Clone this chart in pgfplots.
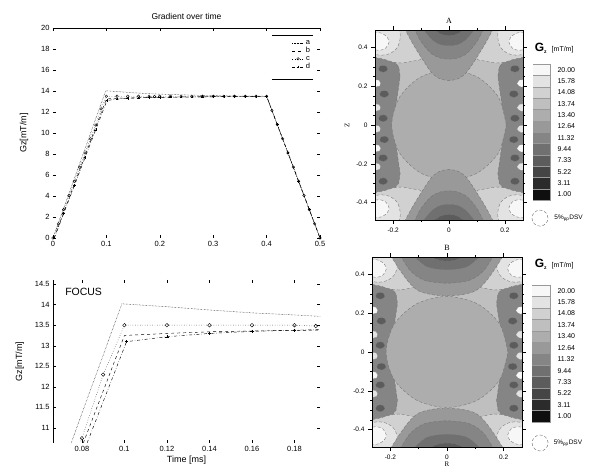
\documentclass[border=0pt]{standalone}
\usepackage{pgfplots}
\pgfplotsset{compat=1.18}
\usepackage{pgfplotstable}
\usepackage{fontspec}
\setmainfont{Liberation Sans}
\newfontfamily\serif{Liberation Serif}

\definecolor{L1}{gray}{0.06}
\definecolor{L2}{gray}{0.17}
\definecolor{L3}{gray}{0.27}
\definecolor{L4}{gray}{0.36}
\definecolor{L5}{gray}{0.44}
\definecolor{L6}{gray}{0.52}
\definecolor{L7}{gray}{0.60}
\definecolor{L8}{gray}{0.68}
\definecolor{L9}{gray}{0.75}
\definecolor{L10}{gray}{0.82}
\definecolor{L11}{gray}{0.89}
\definecolor{L12}{gray}{0.97}

% ---------------- gradient waveforms ----------------
\pgfplotstableread{
t g
0 0
0.0988 14.02
0.12 13.95
0.14 13.87
0.16 13.80
0.18 13.75
0.19 13.72
0.25 13.62
0.30 13.56
0.35 13.52
0.40 13.50
0.50 0
}\serA
\pgfplotstableread{
t g
0.002 0
0.100 13.25
0.12 13.30
0.14 13.34
0.16 13.36
0.19 13.38
0.30 13.45
0.40 13.50
0.50 0
}\serB
\pgfplotstableread{
t g
0 0
0.01 1.35
0.02 2.7
0.03 4.05
0.04 5.4
0.05 6.75
0.06 8.1
0.07 9.45
0.08 10.75
0.09 12.3
0.10 13.5
0.12 13.5
0.14 13.5
0.16 13.5
0.18 13.5
0.19 13.48
0.20 13.5
0.22 13.5
0.24 13.5
0.26 13.5
0.28 13.5
0.30 13.5
0.32 13.5
0.34 13.5
0.36 13.5
0.38 13.5
0.40 13.5
0.41 12.15
0.42 10.8
0.43 9.45
0.44 8.1
0.45 6.75
0.46 5.4
0.47 4.05
0.48 2.7
0.49 1.35
0.50 0
}\serC
\pgfplotstableread{
t g
0.0025 0
0.02 2.33
0.04 4.99
0.06 7.65
0.08 10.31
0.101 13.10
0.12 13.22
0.14 13.30
0.16 13.35
0.18 13.38
0.20 13.40
0.22 13.42
0.24 13.43
0.26 13.44
0.28 13.45
0.30 13.46
0.32 13.47
0.34 13.48
0.36 13.49
0.38 13.50
0.40 13.50
0.42 10.8
0.44 8.1
0.46 5.4
0.48 2.7
0.50 0
}\serD

% ---------------- contour shapes ----------------
\pgfplotstableread{
x y
-0.27 -0.36
-0.27 0.36
-0.235 0.355
-0.20 0.335
-0.18 0.30
-0.175 0.25
-0.185 0.15
-0.195 0.05
-0.20 0
-0.195 -0.05
-0.185 -0.15
-0.175 -0.25
-0.18 -0.30
-0.20 -0.335
-0.235 -0.355
-0.27 -0.36
}\stripL
\pgfplotstableread{
x y
-0.236 0.290
-0.232 0.160
-0.236 0.035
-0.232 -0.075
-0.236 -0.170
-0.236 -0.290
}\blobD
\pgfplotstableread{
x y
-0.262 0.090
-0.262 -0.020
-0.262 -0.215
}\blobL
\pgfplotstableread{
x y
-0.262 0.215
-0.262 -0.120
}\blobW
\pgfplotstableread{
x y
-0.27 0.50
-0.14 0.50
-0.10 0.35
-0.13 0.33
-0.17 0.32
-0.20 0.325
-0.235 0.34
-0.27 0.35
}\cornO
\pgfplotstableread{
x y
-0.27 0.50
-0.185 0.50
-0.175 0.45
-0.185 0.40
-0.21 0.37
-0.24 0.36
-0.27 0.365
}\cornM
\pgfplotstableread{
x y
-0.27 0.475
-0.245 0.475
-0.222 0.455
-0.215 0.425
-0.228 0.395
-0.25 0.385
-0.27 0.39
}\cornC
\pgfplotstableread{
x y
0.205 0
0.1775 0.1425
0.1025 0.2468
0 0.285
-0.1025 0.2468
-0.1775 0.1425
-0.205 0
-0.1775 -0.1425
-0.1025 -0.2468
0 -0.285
0.1025 -0.2468
0.1775 -0.1425
0.205 0
}\circA
\pgfplotstableread{
x y
0.215 0
0.1862 0.1435
0.1075 0.2485
0 0.287
-0.1075 0.2485
-0.1862 0.1435
-0.215 0
-0.1862 -0.1435
-0.1075 -0.2485
0 -0.287
0.1075 -0.2485
0.1862 -0.1435
0.215 0
}\circB
\pgfplotstableread{
x y
-0.16 0.50
-0.13 0.42
-0.10 0.35
-0.065 0.275
-0.035 0.24
0 0.23
0.035 0.24
0.065 0.275
0.10 0.35
0.13 0.42
0.16 0.50
}\hgAa
\pgfplotstableread{
x y
-0.125 0.50
-0.10 0.43
-0.065 0.37
-0.03 0.345
0 0.34
0.03 0.345
0.065 0.37
0.10 0.43
0.125 0.50
}\hgAb
\pgfplotstableread{
x y
-0.095 0.50
-0.06 0.44
-0.03 0.415
0 0.41
0.03 0.415
0.06 0.44
0.095 0.50
}\hgAc
\pgfplotstableread{
x y
-0.06 0.50
-0.03 0.47
0 0.462
0.03 0.47
0.06 0.50
}\hgAd
\pgfplotstableread{
x y
-0.20 0.50
-0.17 0.43
-0.135 0.36
-0.10 0.315
-0.05 0.295
0 0.29
0.05 0.295
0.10 0.315
0.135 0.36
0.17 0.43
0.20 0.50
}\hgBa
\pgfplotstableread{
x y
-0.165 0.50
-0.13 0.42
-0.08 0.37
0 0.355
0.08 0.37
0.13 0.42
0.165 0.50
}\hgBb
\pgfplotstableread{
x y
-0.12 0.50
-0.07 0.44
0 0.425
0.07 0.44
0.12 0.50
}\hgBc
\pgfplotstableread{
x y
-0.07 0.50
-0.03 0.475
0 0.47
0.03 0.475
0.07 0.50
}\hgBd

\pgfplotsset{
  every axis/.append style={scale only axis, anchor=south west,
     /pgf/number format/assume math mode=true,
     tick style={black, line width=0.4pt}},
  sa/.style={black, line width=0.45pt, densely dotted},
  sb/.style={black, line width=0.45pt, dashed},
  sc/.style={black, line width=0.45pt, dotted, mark=o, mark options={solid, line width=0.4pt}},
  sd/.style={black, line width=0.45pt, dash dot, mark=+, mark options={solid, line width=0.4pt}},
  cline/.style={draw=black!55, densely dashed, line width=0.35pt},
  blob/.style={only marks, mark=*, mark size=#1},
}

\newcommand\quadplot[2]{%
  \addplot[#1] table {#2};
  \addplot[#1] table[x expr=-\thisrow{x}] {#2};
  \addplot[#1] table[y expr=-\thisrow{y}] {#2};
  \addplot[#1] table[x expr=-\thisrow{x}, y expr=-\thisrow{y}] {#2};
}
\newcommand\mirrorx[2]{%
  \addplot[#1] table {#2};
  \addplot[#1] table[x expr=-\thisrow{x}] {#2};
}
\newcommand\hgpair[2]{%
  \addplot[fill=#1, cline, smooth] table {#2};
  \addplot[fill=#1, cline, smooth] table[y expr=-\thisrow{y}] {#2};
}
\newcommand\contourbase{%
  \mirrorx{fill=L6, cline}{\stripL}
  \mirrorx{blob=4.6pt, mark options={fill=L4, draw=black!50, densely dashed, line width=0.3pt, yscale=0.75}}{\blobD}
  \mirrorx{blob=5pt, mark options={fill=L11, draw=black!50, densely dashed, line width=0.3pt, yscale=0.75}}{\blobL}
  \mirrorx{blob=5pt, mark options={fill=L12, draw=black!50, densely dashed, line width=0.3pt, yscale=0.75}}{\blobW}
  \quadplot{fill=L10, cline, smooth}{\cornO}
  \quadplot{fill=L11, cline, smooth}{\cornM}
  \quadplot{fill=L12, cline, smooth}{\cornC}
}
\newcommand\cbarblocks{%
  \addplot[fill=L1, draw=black!40, line width=0.2pt] coordinates {(0,0)(1,0)(1,1)(0,1)};
  \addplot[fill=L2, draw=black!40, line width=0.2pt] coordinates {(0,1)(1,1)(1,2)(0,2)};
  \addplot[fill=L3, draw=black!40, line width=0.2pt] coordinates {(0,2)(1,2)(1,3)(0,3)};
  \addplot[fill=L4, draw=black!40, line width=0.2pt] coordinates {(0,3)(1,3)(1,4)(0,4)};
  \addplot[fill=L5, draw=black!40, line width=0.2pt] coordinates {(0,4)(1,4)(1,5)(0,5)};
  \addplot[fill=L6, draw=black!40, line width=0.2pt] coordinates {(0,5)(1,5)(1,6)(0,6)};
  \addplot[fill=L7, draw=black!40, line width=0.2pt] coordinates {(0,6)(1,6)(1,7)(0,7)};
  \addplot[fill=L8, draw=black!40, line width=0.2pt] coordinates {(0,7)(1,7)(1,8)(0,8)};
  \addplot[fill=L9, draw=black!40, line width=0.2pt] coordinates {(0,8)(1,8)(1,9)(0,9)};
  \addplot[fill=L10, draw=black!40, line width=0.2pt] coordinates {(0,9)(1,9)(1,10)(0,10)};
  \addplot[fill=L11, draw=black!40, line width=0.2pt] coordinates {(0,10)(1,10)(1,11)(0,11)};
  \addplot[fill=L12, draw=black!40, line width=0.2pt] coordinates {(0,11)(1,11)(1,12)(0,12)};
}
\pgfplotsset{
  cbar/.style={xmin=0, xmax=1, ymin=0, ymax=12, xtick=\empty,
    ytick={0.5,1.5,2.5,3.5,4.5,5.5,6.5,7.5,8.5,9.5,10.5,11.5},
    yticklabels={1.00,3.11,5.22,7.33,9.44,11.32,12.64,13.40,13.74,14.08,15.78,20.00},
    yticklabel pos=right, major tick length=0pt, clip=false,
    axis line style={black!70, line width=0.4pt},
    yticklabel style={font=\fontsize{7}{8}\selectfont, xshift=4pt, anchor=west}},
  cont/.style={xmin=-0.265, xmax=0.265, ymin=-0.49, ymax=0.49,
    axis background/.style={fill=L9}, axis on top, clip marker paths=true,
    xtick={-0.2,0,0.2}, ytick={-0.4,-0.2,0,0.2,0.4},
    minor y tick num=3, minor x tick num=1,
    tick align=outside, major tick length=4pt, minor tick length=2pt,
    font=\fontsize{6.5}{8}\selectfont,
    xticklabel style={/pgf/number format/fixed},
    yticklabel style={/pgf/number format/fixed},
    title style={font=\serif\fontsize{8}{9}\selectfont, yshift=-3pt}},
}

\begin{document}
\begin{tikzpicture}
\useasboundingbox (0pt,0pt) rectangle (595pt,472pt);

% ---------- top left: whole waveform ----------
\begin{axis}[at={(53pt,234pt)}, width=267pt, height=210pt,
  xmin=0, xmax=0.5, ymin=0, ymax=20,
  xtick={0,0.1,0.2,0.3,0.4,0.5}, ytick={0,2,4,6,8,10,12,14,16,18,20},
  scaled ticks=false, xticklabel style={/pgf/number format/fixed},
  axis line style={draw=none}, major tick length=3pt,
  font=\fontsize{7.5}{9}\selectfont,
  title={Gradient over time}, title style={font=\fontsize{8.5}{10}\selectfont, yshift=-1pt},
  ylabel={Gz[mT/m]}, ylabel style={font=\fontsize{9}{10}\selectfont}, ylabel shift=6pt,
  legend style={draw=none, fill=none, at={(0.975,0.958)}, anchor=north east,
     font=\fontsize{7.5}{8}\selectfont, row sep=-2.2pt, inner sep=1pt},
  legend image code/.code={\draw[mark repeat=2,mark phase=2,#1] plot coordinates {(0cm,0cm) (0.2cm,0cm) (0.4cm,0cm)};},
]
\addplot[sa] table {\serA};
\addplot[sb] table {\serB};
\addplot[sc, mark size=1.3pt] table {\serC};
\addplot[sd, mark size=1.3pt] table {\serD};
\legend{a,b,c,d}
\draw[line width=0.9pt] (rel axis cs:0,1) -- (rel axis cs:1,1);
\draw[line width=0.6pt] (rel axis cs:0.82,0.967) -- (rel axis cs:0.975,0.967);
\draw[line width=0.6pt] (rel axis cs:0.82,0.757) -- (rel axis cs:0.975,0.757);
\end{axis}

% ---------- bottom left: focus ----------
\begin{axis}[at={(53pt,29pt)}, width=267pt, height=163pt,
  xmin=0.0664, xmax=0.192, ymin=10.635, ymax=14.6,
  xtick={0.08,0.1,0.12,0.14,0.16,0.18}, ytick={11,11.5,12,12.5,13,13.5,14,14.5},
  scaled ticks=false,
  xticklabel style={/pgf/number format/fixed, /pgf/number format/precision=2},
  yticklabel style={/pgf/number format/fixed},
  axis line style={draw=none}, major tick length=3pt,
  font=\fontsize{7.5}{9}\selectfont,
  xlabel={Time [ms]}, xlabel style={font=\fontsize{9}{10}\selectfont, yshift=3pt},
  ylabel={Gz[mT/m]}, ylabel style={font=\fontsize{9}{10}\selectfont}, ylabel shift=4pt,
]
\addplot[sa] table {\serA};
\addplot[sb] table {\serB};
\addplot[sc, mark size=1.8pt] table {\serC};
\addplot[sd, mark size=1.6pt] table {\serD};
\draw[line width=0.7pt] (rel axis cs:0,0) -- (rel axis cs:0,1);
\node[anchor=west, font=\fontsize{10.5}{12}\selectfont] at (axis cs:0.0705,14.3) {FOCUS};
\end{axis}

% ---------- contour A ----------
\begin{axis}[cont, at={(375pt,252pt)}, width=148pt, height=190pt,
  title={A}, ylabel={Z}, ylabel style={font=\serif\fontsize{7}{8}\selectfont}]
\contourbase
\addplot[fill=L8, cline, smooth] table {\circA};
\hgpair{L7}{\hgAa}
\hgpair{L6}{\hgAb}
\hgpair{L5}{\hgAc}
\hgpair{L4}{\hgAd}
\end{axis}

% ---------- contour B ----------
\begin{axis}[cont, at={(372pt,25pt)}, width=150pt, height=190pt,
  title={B}, xlabel={R}, xlabel style={font=\serif\fontsize{7}{8}\selectfont, yshift=4pt}]
\contourbase
\addplot[fill=L8, cline, smooth] table {\circB};
\hgpair{L7}{\hgBa}
\hgpair{L6}{\hgBb}
\hgpair{L5}{\hgBc}
\hgpair{L4}{\hgBd}
\end{axis}

% ---------- colour bars ----------
\begin{axis}[cbar, at={(533pt,272pt)}, width=17pt, height=136pt]
\cbarblocks
\addplot[only marks, mark=*, mark size=8pt, mark options={fill=white, draw=black!60, densely dashed, line width=0.4pt}] coordinates {(0.41,-1.6)};
\node[anchor=west, inner sep=0pt, font=\fontsize{6.5}{8}\selectfont] at (axis cs:1.25,-1.6) {5\%\textsubscript{pp}DSV};
\node[anchor=west, inner sep=0pt] at (axis cs:0.1,13.4) {\fontsize{12}{12}\selectfont\bfseries G\raisebox{-2pt}{\fontsize{5}{5}\selectfont z}\hspace{5pt}\fontsize{7}{8}\mdseries\selectfont [mT/m]};
\end{axis}

\begin{axis}[cbar, at={(532pt,50pt)}, width=18pt, height=137pt]
\cbarblocks
\addplot[only marks, mark=*, mark size=8pt, mark options={fill=white, draw=black!60, densely dashed, line width=0.4pt}] coordinates {(0.45,-1.84)};
\node[anchor=west, inner sep=0pt, font=\fontsize{6.5}{8}\selectfont] at (axis cs:1.2,-1.84) {5\%\textsubscript{pp}DSV};
\node[anchor=west, inner sep=0pt] at (axis cs:0.15,13.8) {\fontsize{12}{12}\selectfont\bfseries G\raisebox{-2pt}{\fontsize{5}{5}\selectfont z}\hspace{5pt}\fontsize{7}{8}\mdseries\selectfont [mT/m]};
\end{axis}
\end{tikzpicture}
\end{document}
